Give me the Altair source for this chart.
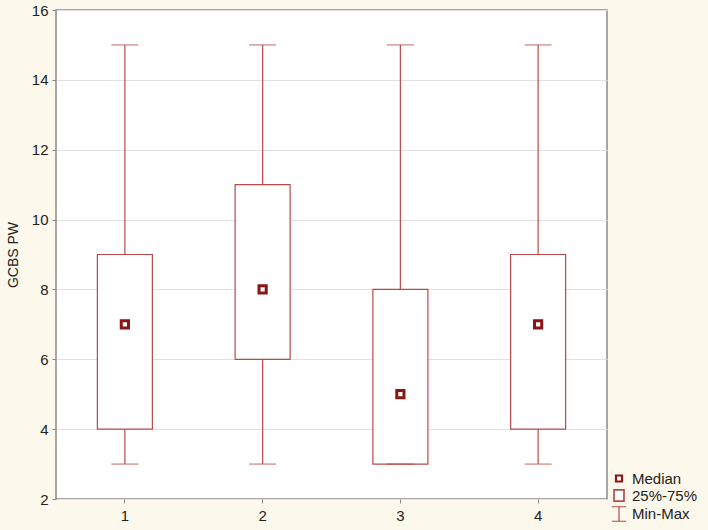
import altair as alt
import pandas as pd

categories = ["1", "2", "3", "4"]
mins = [3, 3, 3, 3]
q1s = [4, 6, 3, 4]
medians = [7, 8, 5, 7]
q3s = [9, 11, 8, 9]
maxs = [15, 15, 15, 15]

legend_items = ["Median", "25%-75%", "Min-Max"]

BOX = "#B84A4A"
MED = "#8B1515"
BG = "#FDF8EC"
FONT = "Liberation Sans"

df = pd.DataFrame({"cat": categories, "mn": mins, "q1": q1s, "med": medians, "q3": q3s, "mx": maxs})

xenc = alt.X("cat:N", title=None, sort=categories,
             scale=alt.Scale(paddingInner=0, paddingOuter=0),
             axis=alt.Axis(labelAngle=0, labelFontSize=15, labelFont=FONT,
                           labelColor="#222", ticks=True, tickSize=4, tickColor="#888",
                           labelPadding=5, domain=False, grid=False))
yscale = alt.Scale(domain=[2, 16], zero=False, nice=False)
yaxis = alt.Axis(title="GCBS PW", values=[2, 4, 6, 8, 10, 12, 14, 16], labelFontSize=15,
                 labelFont=FONT, labelColor="#222", titleFont=FONT,
                 titleFontSize=14, titleFontWeight="normal", titleColor="#222", titlePadding=11,
                 tickSize=4, tickColor="#888", labelPadding=4, domain=False,
                 grid=True, gridColor="#E2E2E2", gridWidth=1)

base = alt.Chart(df)

whisk_lo = base.mark_rule(color=BOX, strokeWidth=1.2).encode(
    x=xenc, y=alt.Y("mn:Q", scale=yscale, axis=yaxis), y2="q1:Q")
whisk_hi = base.mark_rule(color=BOX, strokeWidth=1.2).encode(
    x=xenc, y=alt.Y("q3:Q", scale=yscale, axis=yaxis), y2="mx:Q")
box = base.mark_bar(fill="white", stroke=BOX, strokeWidth=1.2, size=55).encode(
    x=xenc, y=alt.Y("q1:Q", scale=yscale, axis=yaxis), y2="q3:Q")
cap_lo = base.mark_tick(color=BOX, thickness=1.2, size=27).encode(
    x=xenc, y=alt.Y("mn:Q", scale=yscale, axis=yaxis))
cap_hi = base.mark_tick(color=BOX, thickness=1.2, size=27).encode(
    x=xenc, y=alt.Y("mx:Q", scale=yscale, axis=yaxis))
med = base.mark_point(shape="square", filled=True, fill="white", stroke=MED,
                      strokeWidth=3, size=52, opacity=1).encode(
    x=xenc, y=alt.Y("med:Q", scale=yscale, axis=yaxis))


def leg():
    return alt.Legend(title=None, orient="none", legendX=555, legendY=461,
                      labelFontSize=15, labelFont=FONT, labelColor="#222",
                      symbolFillColor="white", rowPadding=-1, labelOffset=5,
                      symbolOpacity=1)


leg_df = pd.DataFrame({"item": legend_items, "cat": ["1"] * 3, "v": [0, 0, 0]})
legend_layer = alt.Chart(leg_df).mark_point(filled=True, fill="white", clip=True, opacity=1).encode(
    x=xenc,
    y=alt.Y("v:Q", scale=yscale, axis=yaxis),
    shape=alt.Shape("item:N", scale=alt.Scale(
        domain=legend_items,
        range=["M-1,-1H1V1H-1Z", "M-0.9,-1H0.9V1H-0.9Z", "M-1,-1H1M0,-1V1M-1,1H1"]),
        legend=leg()),
    size=alt.Size("item:N", scale=alt.Scale(domain=legend_items, range=[36, 210, 169]),
                  legend=leg()),
    stroke=alt.Stroke("item:N", scale=alt.Scale(domain=legend_items, range=[MED, BOX, BOX]),
                      legend=leg()),
    strokeWidth=alt.StrokeWidth("item:N", scale=alt.Scale(domain=legend_items, range=[2.2, 1.2, 1.2]),
                                legend=leg()),
)

chart = alt.layer(whisk_lo, whisk_hi, box, cap_lo, cap_hi, med, legend_layer).properties(
    width=551, height=489,
    background=BG,
    autosize=alt.AutoSizeParams(type="none"),
    padding={"left": 56, "top": 10, "right": 101, "bottom": 31},
).configure_view(
    fill="white", stroke="#8A8A8A", strokeWidth=1.5
)

chart.save("out.html", embed_options={"renderer": "svg", "actions": False})
